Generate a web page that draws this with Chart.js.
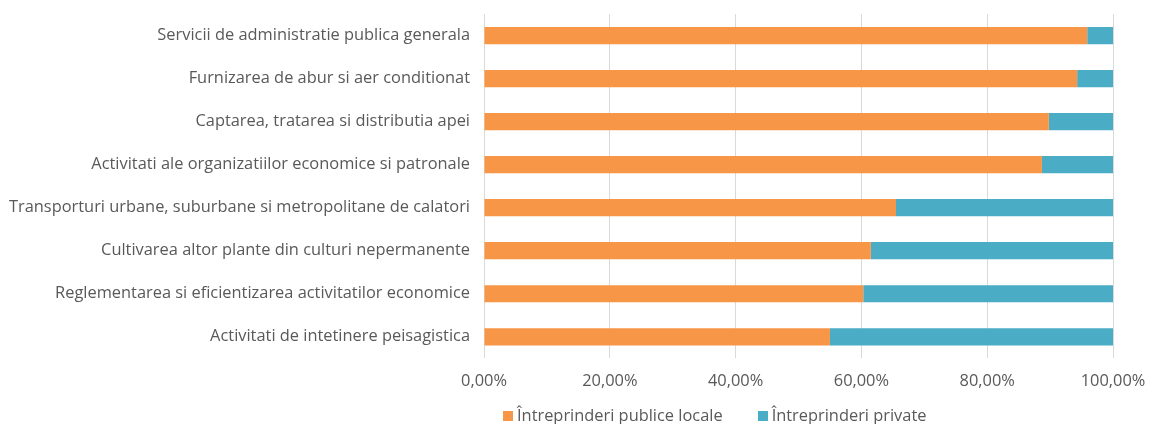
<!DOCTYPE html>
<html>
<head>
<meta charset="utf-8">
<script src="https://cdn.jsdelivr.net/npm/chart.js@4"></script>
<style>
  html, body { margin: 0; padding: 0; background: #fff; }
  #wrap { position: relative; width: 1151px; height: 424px; }
  #legend {
    position: absolute; top: 403px; left: 503px;
    font: 16.4px "Open Sans", sans-serif; color: #595959;
    display: flex; gap: 35px; white-space: nowrap;
  }
  #legend span.box { display: inline-block; width: 10px; height: 10px; margin-right: 4px; }
</style>
</head>
<body>
<div id="wrap">
  <canvas id="chart" width="1151" height="424"></canvas>
  <div id="legend"></div>
</div>
<script>
const categories = [
  'Servicii de administratie publica generala',
  'Furnizarea de abur si aer conditionat',
  'Captarea, tratarea si distributia apei',
  'Activitati ale organizatiilor economice si patronale',
  'Transporturi urbane, suburbane si metropolitane de calatori',
  'Cultivarea altor plante din culturi nepermanente',
  'Reglementarea si eficientizarea activitatilor economice',
  'Activitati de intetinere peisagistica'
];
const publiceLocale = [95.9, 94.3, 89.8, 88.7, 65.5, 61.5, 60.3, 55.0];
const private_ = [4.1, 5.7, 10.2, 11.3, 34.5, 38.5, 39.7, 45.0];
const seriesNames = ['Întreprinderi publice locale', 'Întreprinderi private'];
const colors = ['#F79646', '#4BACC6'];

const txt = '#595959';
const fontFamily = '"Open Sans", sans-serif';

new Chart(document.getElementById('chart'), {
  type: 'bar',
  data: {
    labels: categories,
    datasets: [
      { label: seriesNames[0], data: publiceLocale, backgroundColor: colors[0] },
      { label: seriesNames[1], data: private_, backgroundColor: colors[1] }
    ]
  },
  options: {
    indexAxis: 'y',
    responsive: false,
    animation: false,
    layout: { padding: { top: 14, right: 38, bottom: 20, left: 0 } },
    datasets: { bar: { barPercentage: 0.4, categoryPercentage: 1 } },
    plugins: { legend: { display: false }, tooltip: { enabled: false } },
    scales: {
      x: {
        stacked: true, min: 0, max: 100,
        afterFit: s => { s.paddingLeft = 0; s.paddingRight = 0; },
        ticks: {
          stepSize: 20, padding: 13, color: txt,
          font: { family: fontFamily, size: 16.4 },
          callback: v => v.toFixed(2).replace('.', ',') + '%'
        },
        grid: { color: '#d9d9d9', drawTicks: false },
        border: { display: false }
      },
      y: {
        stacked: true,
        afterFit: s => { s.width = 484; s.paddingTop = 0; s.paddingBottom = 0; },
        ticks: { padding: 14, color: txt, font: { family: fontFamily, size: 16.4 } },
        grid: { display: false, drawTicks: false },
        border: { display: false }
      }
    }
  }
});

// legend
const leg = document.getElementById('legend');
seriesNames.forEach((n, i) => {
  const item = document.createElement('div');
  item.innerHTML = '<span class="box" style="background:' + colors[i] + '"></span>' + n;
  leg.appendChild(item);
});
</script>
</body>
</html>
